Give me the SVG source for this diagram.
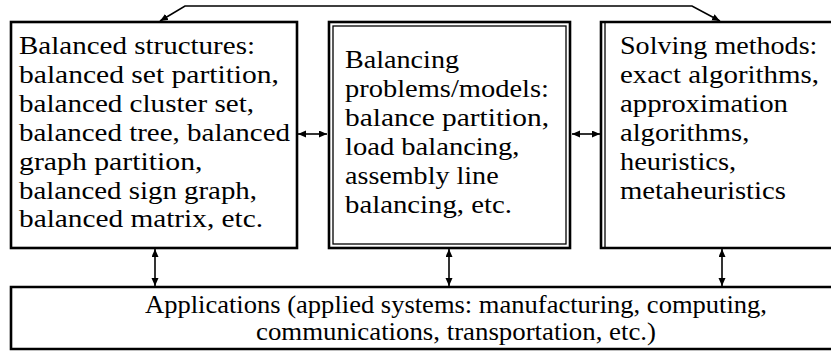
<svg xmlns="http://www.w3.org/2000/svg" width="831" height="362" viewBox="0 0 831 362">
<style>
.t{font-family:'Liberation Serif','DejaVu Serif',serif;font-size:25px;fill:#000}
.thick{fill:none;stroke:#000;stroke-width:2.6}
.thin{fill:none;stroke:#000;stroke-width:1.3}
.conn{fill:none;stroke:#000;stroke-width:1.6}
</style>
<defs>
<marker id="ah" markerUnits="userSpaceOnUse" markerWidth="10" markerHeight="8" refX="8" refY="3.5" orient="auto-start-reverse">
<path d="M0,0 L8,3.5 L0,7 z" fill="#000"/>
</marker>
</defs>
<rect width="831" height="362" fill="#fff"/>
<g id="connectors">
<polyline class="conn" points="160,21 185,6 692,6 720,21" marker-start="url(#ah)" marker-end="url(#ah)"/>
<line class="conn" x1="298" y1="134" x2="327" y2="134" marker-start="url(#ah)" marker-end="url(#ah)"/>
<line class="conn" x1="572" y1="134" x2="600" y2="134" marker-start="url(#ah)" marker-end="url(#ah)"/>
<line class="conn" x1="155" y1="249" x2="155" y2="286" marker-start="url(#ah)" marker-end="url(#ah)"/>
<line class="conn" x1="449" y1="249" x2="449" y2="286" marker-start="url(#ah)" marker-end="url(#ah)"/>
<line class="conn" x1="722" y1="249" x2="722" y2="286" marker-start="url(#ah)" marker-end="url(#ah)"/>
</g>
<g id="structures" class="t">
<rect class="thick" x="11" y="22" width="286" height="226"/>
<text x="19" y="54" textLength="236" lengthAdjust="spacingAndGlyphs">Balanced structures:</text>
<text x="19" y="82.9" textLength="260" lengthAdjust="spacingAndGlyphs">balanced set partition,</text>
<text x="19" y="111.8" textLength="235" lengthAdjust="spacingAndGlyphs">balanced cluster set,</text>
<text x="19" y="140.7" textLength="271" lengthAdjust="spacingAndGlyphs">balanced tree, balanced</text>
<text x="19" y="169.6" textLength="183.5" lengthAdjust="spacingAndGlyphs">graph partition,</text>
<text x="19" y="198.5" textLength="238" lengthAdjust="spacingAndGlyphs">balanced sign graph,</text>
<text x="19" y="227.4" textLength="244" lengthAdjust="spacingAndGlyphs">balanced matrix, etc.</text>
</g>
<g id="problems" class="t">
<rect class="thick" x="329" y="22" width="241" height="226"/>
<rect class="thin" x="333" y="26" width="233" height="218"/>
<text x="345" y="68" textLength="114" lengthAdjust="spacingAndGlyphs">Balancing</text>
<text x="345" y="96.9" textLength="204" lengthAdjust="spacingAndGlyphs">problems/models:</text>
<text x="345" y="125.8" textLength="204" lengthAdjust="spacingAndGlyphs">balance partition,</text>
<text x="345" y="154.7" textLength="174.5" lengthAdjust="spacingAndGlyphs">load balancing,</text>
<text x="345" y="183.6" textLength="153.6" lengthAdjust="spacingAndGlyphs">assembly line</text>
<text x="345" y="212.5" textLength="167" lengthAdjust="spacingAndGlyphs">balancing, etc.</text>
</g>
<g id="methods" class="t">
<path class="thick" d="M840,22 H601 V248 H840"/>
<line class="thin" x1="605" y1="22" x2="605" y2="248"/>
<text x="620" y="54" textLength="197.4" lengthAdjust="spacingAndGlyphs">Solving methods:</text>
<text x="620" y="82.9" textLength="199" lengthAdjust="spacingAndGlyphs">exact algorithms,</text>
<text x="620" y="111.8" textLength="168" lengthAdjust="spacingAndGlyphs">approximation</text>
<text x="620" y="140.7" textLength="129.3" lengthAdjust="spacingAndGlyphs">algorithms,</text>
<text x="620" y="169.6" textLength="116.2" lengthAdjust="spacingAndGlyphs">heuristics,</text>
<text x="620" y="198.5" textLength="166" lengthAdjust="spacingAndGlyphs">metaheuristics</text>
</g>
<g id="applications" class="t">
<path class="thick" d="M840,287 H11 V349 H840"/>
<text x="456" y="313" text-anchor="middle" textLength="622" lengthAdjust="spacingAndGlyphs">Applications (applied systems: manufacturing, computing,</text>
<text x="456" y="340" text-anchor="middle" textLength="400" lengthAdjust="spacingAndGlyphs">communications, transportation, etc.)</text>
</g>
</svg>
